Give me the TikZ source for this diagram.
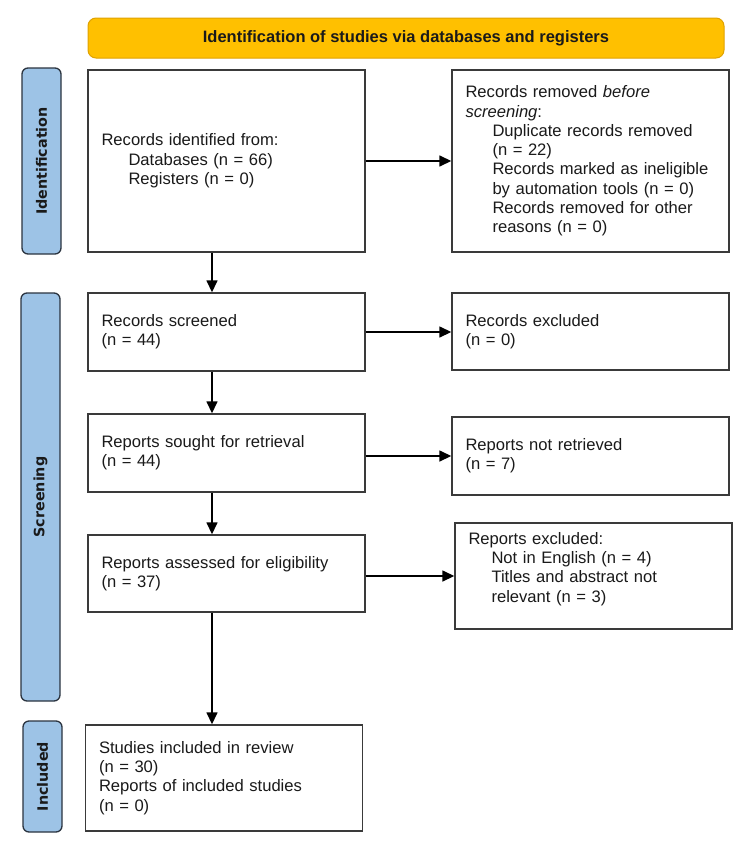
\documentclass[tikz,border=0pt]{standalone}
\usepackage{fontspec}
\setmainfont{Liberation Sans}
\newfontfamily\labelfont{DejaVu Sans}
\usetikzlibrary{arrows.meta,calc}
\definecolor{bannerfill}{HTML}{FFC000}
\definecolor{bannerdraw}{HTML}{E0A200}
\definecolor{sidefill}{HTML}{9DC3E6}
\definecolor{sidedraw}{HTML}{2B3440}
\definecolor{boxdraw}{HTML}{3A3A3A}
\definecolor{txt}{HTML}{1A1A1A}
\tikzset{
  flowbox/.style={draw=boxdraw, line width=1.4pt, fill=white, rectangle,
    minimum width=277pt, inner xsep=13.5pt, inner ysep=4pt, text width=250pt,
    align=left, text=txt, font=\fontsize{16.6}{19.3}\selectfont},
  sidelabel/.style={draw=sidedraw, line width=1.3pt, fill=sidefill,
    rounded corners=6pt, rotate=90, minimum height=39pt, inner sep=0pt,
    text=txt, font=\labelfont\bfseries\fontsize{14.3}{16}\selectfont},
  banner/.style={draw=bannerdraw, line width=1pt, fill=bannerfill,
    rounded corners=8pt, minimum width=636pt, minimum height=40pt,
    text=txt, font=\bfseries\fontsize{16.5}{19}\selectfont},
  arr/.style={line width=1.5pt, draw=black, -{Triangle[length=12pt,width=11pt]}}
}
\begin{document}
\begin{tikzpicture}[x=1pt,y=-1pt]
\useasboundingbox[fill=white] (0,0) rectangle (750,857);

\node[banner] (banner) at (406,38) {Identification of studies via databases and registers};

\node[sidelabel, minimum width=186pt] (idlab) at (41.5,161) {Identification};
\node[sidelabel, minimum width=408pt] (scrlab) at (40.5,497) {Screening};
\node[sidelabel, minimum width=111pt] (inclab) at (42.5,776.5) {Included};

\node[flowbox, minimum height=182pt] (box1) at (226.5,161)
  {Records identified from:\\
   \hspace*{27pt}Databases (n = 66)\\
   \hspace*{27pt}Registers (n = 0)};

\node[flowbox, minimum height=182pt] (removed) at (590.5,161)
  {Records removed \textit{before}\\
   \textit{screening}:\\
   \hspace*{27pt}Duplicate records removed\\
   \hspace*{27pt}(n = 22)\\
   \hspace*{27pt}Records marked as ineligible\\
   \hspace*{27pt}by automation tools (n = 0)\\
   \hspace*{27pt}Records removed for other\\
   \hspace*{27pt}reasons (n = 0)};

\node[flowbox, minimum height=78pt] (screened) at (226.5,332)
  {Records screened\\(n = 44)};
\node[flowbox, minimum height=77pt] (excluded) at (590.5,331.5)
  {Records excluded\\(n = 0)};

\node[flowbox, minimum height=78pt] (sought) at (226.5,453)
  {Reports sought for retrieval\\(n = 44)};
\node[flowbox, minimum height=78pt] (notret) at (590.5,456)
  {Reports not retrieved\\(n = 7)};

\node[flowbox, minimum height=77pt] (assessed) at (226.5,573.5)
  {Reports assessed for eligibility\\(n = 37)};
\node[flowbox, minimum height=106pt] (repexcl) at (593.5,576)
  {Reports excluded:\\
   \hspace*{23pt}Not in English (n = 4)\\
   \hspace*{23pt}Titles and abstract not\\
   \hspace*{23pt}relevant (n = 3)\par\vspace*{14pt}};

\node[flowbox, minimum width=276pt, minimum height=106pt] (included) at (224,778)
  {Studies included in review\\
   (n = 30)\\
   Reports of included studies\\
   (n = 0)};

\coordinate (ax) at (212,0);
\draw[arr] (box1.south -| ax) -- (screened.north -| ax);
\draw[arr] (screened.south -| ax) -- (sought.north -| ax);
\draw[arr] (sought.south -| ax) -- (assessed.north -| ax);
\draw[arr] (assessed.south -| ax) -- (included.north -| ax);

\draw[arr] (box1.east) -- (box1.east -| removed.west);
\draw[arr] (screened.east) -- (screened.east -| excluded.west);
\draw[arr] (notret.west -| sought.east) -- (notret.west);
\draw[arr] (repexcl.west -| assessed.east) -- (repexcl.west);
\end{tikzpicture}
\end{document}
